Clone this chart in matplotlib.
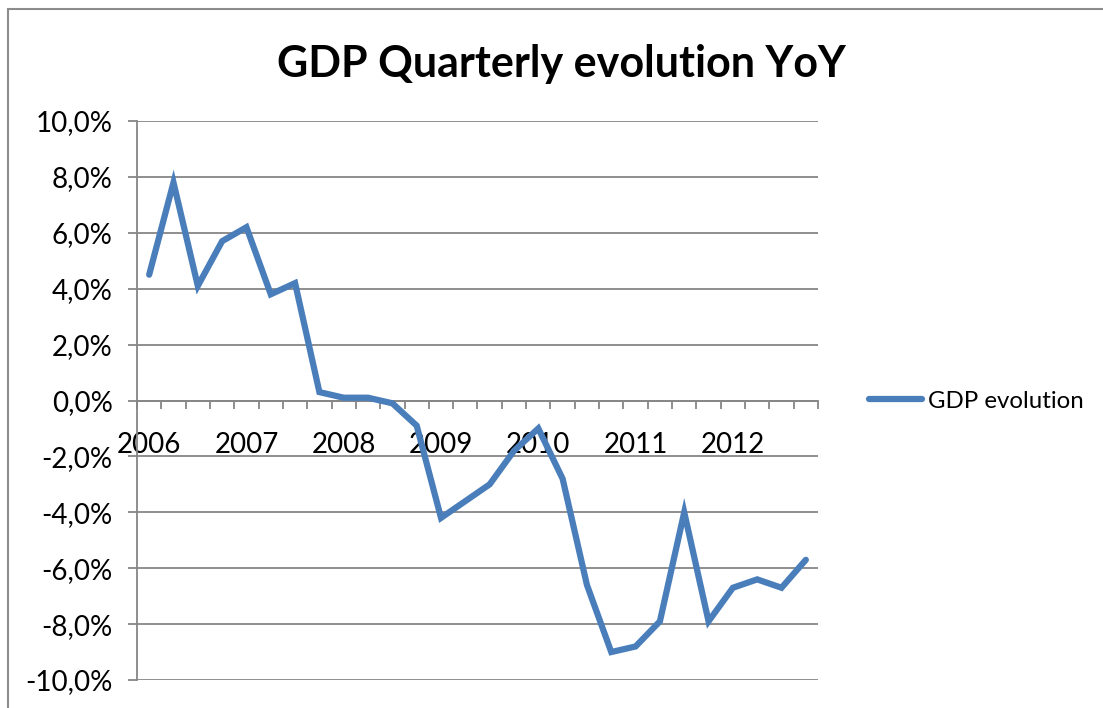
import matplotlib
matplotlib.use("Agg")
import matplotlib.pyplot as plt
from matplotlib.patches import Rectangle
from matplotlib.ticker import FixedLocator, FuncFormatter

# quarterly GDP change, year on year, in percent
years = ["2006", "2007", "2008", "2009", "2010", "2011", "2012"]
gdp_yoy = [4.5, 7.8, 4.1, 5.7, 6.2, 3.8, 4.2, 0.3,
           0.1, 0.1, -0.1, -0.9, -4.2, -3.6, -3.0, -1.8,
           -1.0, -2.8, -6.6, -9.0, -8.8, -7.9, -4.0, -7.9,
           -6.7, -6.4, -6.7, -5.7]
y_ticks = [-10, -8, -6, -4, -2, 0, 2, 4, 6, 8, 10]

plt.rcParams['font.family'] = ['Lato', 'DejaVu Sans']

W, H = 1103, 708
fig = plt.figure(figsize=(W / 100, H / 100), dpi=100)

# chart frame
fig.patches.append(Rectangle((8 / W, -0.05), 1.2, 1.05 - 9 / H,
                             transform=fig.transFigure, fill=False,
                             edgecolor='#8c8c8c', linewidth=1.5))

ax = fig.add_axes([137 / W, 1 - 680 / H, 681 / W, 559 / H])
grey = '#868686'

n = len(gdp_yoy)
x = list(range(n))
ax.plot(x, gdp_yoy, color='#4a7ebb', linewidth=4.5, solid_joinstyle='miter',
        solid_capstyle='round', label='GDP evolution', zorder=3)

ax.set_xlim(-0.5, n - 0.5)
ax.set_ylim(-10, 10)

# y axis
ax.yaxis.set_major_locator(FixedLocator(y_ticks))
ax.yaxis.set_major_formatter(FuncFormatter(lambda v, p: f"{v:.1f}%".replace('.', ',')))
ax.tick_params(axis='y', length=6.5, width=1.3, color=grey, pad=11, labelsize=20)
ax.grid(axis='y', color=grey, linewidth=1.3)
ax.set_axisbelow(True)

# category axis sits at zero, with ticks between the quarters
ax.spines['bottom'].set_position(('data', 0))
for s in ['top', 'right']:
    ax.spines[s].set_visible(False)
for s in ['left', 'bottom']:
    ax.spines[s].set_color(grey)
    ax.spines[s].set_linewidth(1.3)
ax.xaxis.set_major_locator(FixedLocator([i - 0.5 for i in range(n + 1)]))
ax.xaxis.set_major_formatter(FuncFormatter(lambda v, p: ''))
ax.xaxis.set_minor_locator(FixedLocator([i * 4 for i in range(len(years))]))
ax.set_xticklabels(years, minor=True)
ax.tick_params(axis='x', which='major', length=6, width=1.3, color=grey)
ax.tick_params(axis='x', which='minor', length=0, pad=23, labelsize=20)

fig.text(561 / W, 1 - 64 / H, 'GDP Quarterly evolution YoY', ha='center', va='center',
         fontsize=31, fontweight='bold')

ax.legend(loc='center left', bbox_to_anchor=(869 / W, 1 - 401 / H),
          bbox_transform=fig.transFigure, frameon=False, fontsize=17.3,
          handlelength=2.2, handletextpad=0.25, borderaxespad=0, borderpad=0)

fig.savefig('out.png', dpi=100)
